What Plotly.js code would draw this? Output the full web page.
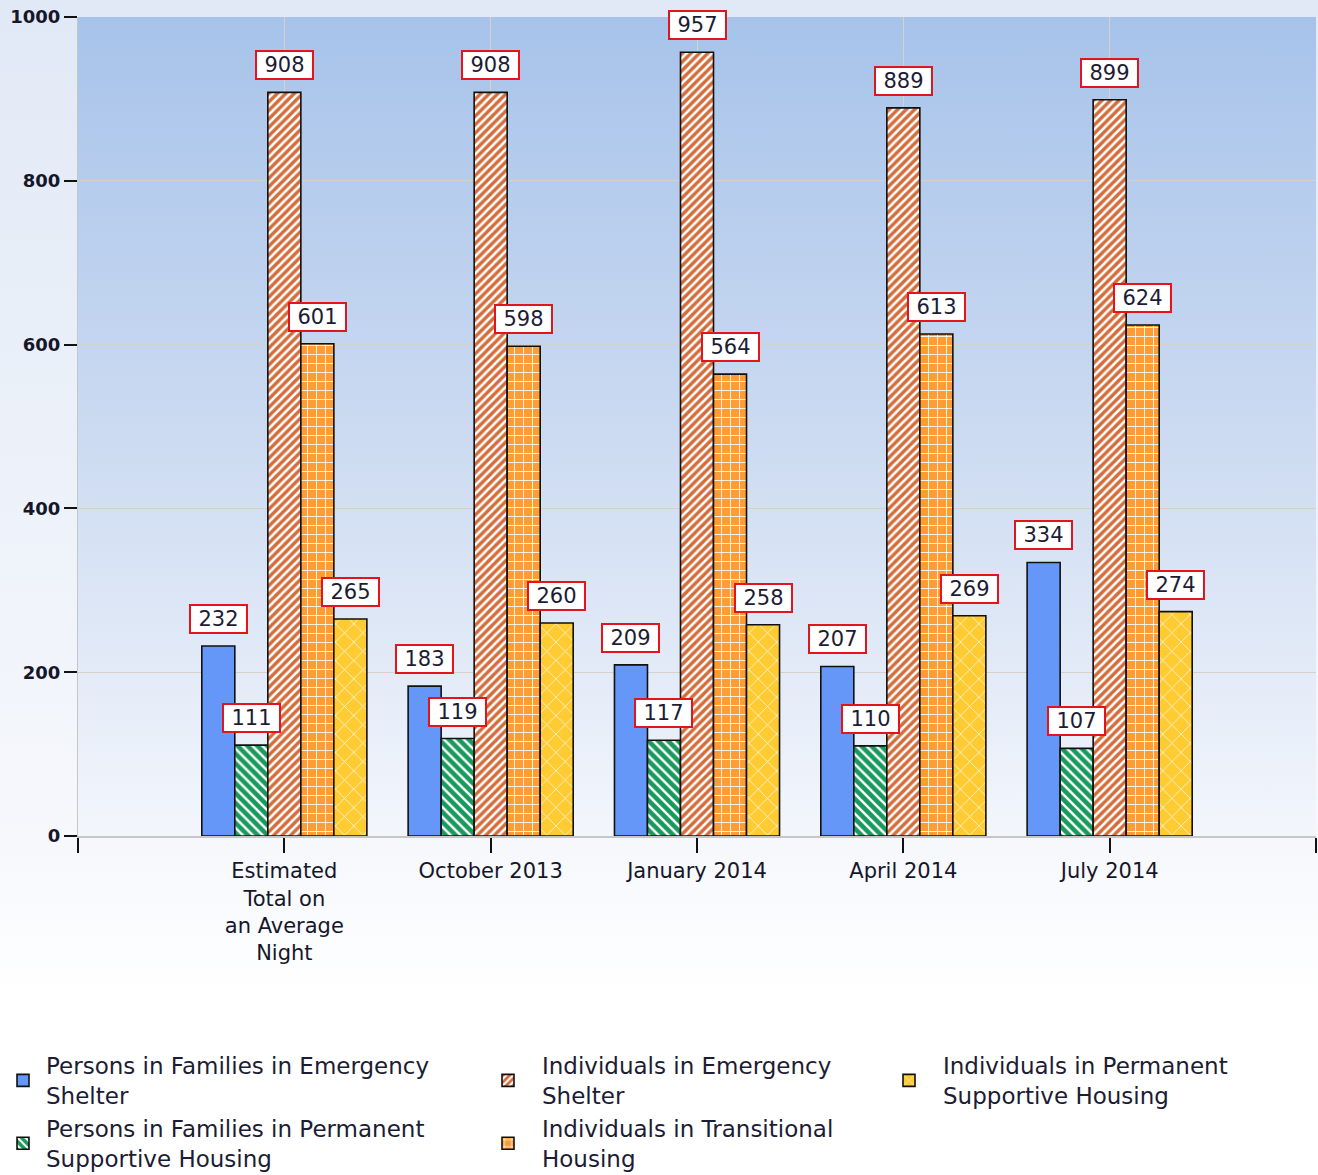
<!DOCTYPE html>
<html><head><meta charset="utf-8">
<script src="https://cdn.plot.ly/plotly-3.0.1.min.js"></script>
<style>
html,body{margin:0;padding:0;background:#ffffff;}
#chart{width:1318px;height:1175px;background:linear-gradient(to bottom,#e1e9f6 0px,#ecf1f9 450px,#f6f8fc 850px,#ffffff 1000px);}
</style>
</head><body><div id="chart"></div>
<script>
// ---- data ----
const categories = ['Estimated<br>Total on<br>an Average<br>Night', 'October 2013', 'January 2014', 'April 2014', 'July 2014'];
const familiesEmergencyShelter = [232, 183, 209, 207, 334];
const familiesPermanentSupportive = [111, 119, 117, 110, 107];
const individualsEmergencyShelter = [908, 908, 957, 889, 899];
const individualsTransitional = [601, 598, 564, 613, 624];
const individualsPermanentSupportive = [265, 260, 258, 269, 274];
const seriesNames = [
  'Persons in Families in Emergency<br>Shelter',
  'Persons in Families in Permanent<br>Supportive Housing',
  'Individuals in Emergency<br>Shelter',
  'Individuals in Transitional<br>Housing',
  'Individuals in Permanent<br>Supportive Housing'
];
const yTicks = [0, 200, 400, 600, 800, 1000];

// ---- styles ----
const seriesValues = [familiesEmergencyShelter, familiesPermanentSupportive, individualsEmergencyShelter, individualsTransitional, individualsPermanentSupportive];
const colors = ['#6497f7', '#179a5c', '#d46d3c', '#ff9c34', '#ffcb33'];
const patterns = [
  {shape: ''},
  {shape: '\\', fgcolor: '#ffffff', fgopacity: 1, size: 7, solidity: 0.35, fillmode: 'overlay'},
  {shape: '/', fgcolor: '#ffffff', fgopacity: 1, size: 6, solidity: 0.42, fillmode: 'overlay'},
  {shape: '+', fgcolor: '#ffffff', fgopacity: 1, size: 9, solidity: 0.18, fillmode: 'overlay'},
  {shape: 'x', fgcolor: '#ffffff', fgopacity: 1, size: 13, solidity: 0.1, fillmode: 'overlay'}
];
const legendIds = ['legend', 'legend', 'legend2', 'legend2', 'legend3'];
const FONT = '"DejaVu Sans", Verdana, sans-serif';
const TXT = '#1c1c34';

const nSeries = seriesValues.length;
const catIndex = categories.map((c, i) => i);
const bargap = 0.2;
const barW = (1 - bargap) / nSeries;

const traces = seriesValues.map((vals, s) => ({
  type: 'bar',
  name: seriesNames[s],
  x: catIndex,
  y: vals,
  legend: legendIds[s],
  marker: {color: colors[s], line: {color: '#111111', width: 1.6}, pattern: patterns[s]},
  hoverinfo: 'none'
}));

const annotations = [];
seriesValues.forEach((vals, s) => {
  vals.forEach((v, j) => {
    annotations.push({
      x: catIndex[j] + (s - (nSeries - 1) / 2) * barW,
      y: v,
      xref: 'x', yref: 'y',
      text: String(v),
      showarrow: false,
      yanchor: 'bottom',
      xanchor: 'center',
      yshift: 12,
      bgcolor: '#ffffff',
      bordercolor: '#e3141c',
      borderwidth: 2,
      borderpad: 0,
      width: 55,
      height: 26,
      font: {family: FONT, size: 21, color: TXT}
    });
  });
});

const gradSvg = "<svg xmlns='http://www.w3.org/2000/svg' width='100' height='100' preserveAspectRatio='none'>" +
  "<defs><linearGradient id='g' x1='0' y1='0' x2='0' y2='1'>" +
  "<stop offset='0' stop-color='#a7c3ea'/><stop offset='0.5' stop-color='#cbdaf1'/><stop offset='1' stop-color='#f3f6fc'/>" +
  "</linearGradient></defs><rect width='100' height='100' fill='url(#g)'/></svg>";

const legendCommon = {
  orientation: 'v', xref: 'container', yref: 'container', xanchor: 'left', yanchor: 'top',
  y: 0.1115, bgcolor: 'rgba(0,0,0,0)', borderwidth: 0, traceorder: 'normal',
  font: {family: FONT, size: 23, color: TXT}
};

const layout = {
  width: 1318, height: 1175,
  margin: {l: 78, r: 2, t: 17, b: 339, autoexpand: false},
  paper_bgcolor: 'rgba(0,0,0,0)',
  plot_bgcolor: 'rgba(0,0,0,0)',
  font: {family: FONT, color: TXT},
  barmode: 'group', bargap: bargap, bargroupgap: 0,
  showlegend: true,
  legend: Object.assign({}, legendCommon, {x: 0, itemwidth: 36}),
  legend2: Object.assign({}, legendCommon, {x: 474 / 1318, itemwidth: 58}),
  legend3: Object.assign({}, legendCommon, {x: 875 / 1318, itemwidth: 58}),
  xaxis: {
    range: [-1, 5], tickmode: 'array',
    tickvals: [-1].concat(catIndex, [5]),
    ticktext: [''].concat(categories, ['']),
    showgrid: true, gridcolor: '#d6d1ca', gridwidth: 1,
    ticks: 'outside', ticklen: 15, tickwidth: 2, tickcolor: '#111111',
    showline: true, linecolor: '#c6c6c6', linewidth: 2, zeroline: false,
    tickfont: {family: FONT, size: 21, color: '#16162a'}, fixedrange: true
  },
  yaxis: {
    range: [0, 1000], tickmode: 'array', tickvals: yTicks,
    showgrid: true, gridcolor: '#d6d1ca', gridwidth: 1,
    ticks: 'outside', ticklen: 13, tickwidth: 2, tickcolor: '#111111',
    showline: true, linecolor: '#c6c6c6', linewidth: 1, zeroline: false,
    tickfont: {family: FONT, size: 18, color: '#16162a', weight: 'bold'}, fixedrange: true
  },
  images: [{
    source: 'data:image/svg+xml;charset=utf-8,' + encodeURIComponent(gradSvg),
    xref: 'paper', yref: 'paper', x: 0, y: 1, sizex: 1, sizey: 1,
    xanchor: 'left', yanchor: 'top', sizing: 'stretch', layer: 'below'
  }],
  annotations: annotations,
  hovermode: false
};

Plotly.newPlot('chart', traces, layout, {displayModeBar: false, staticPlot: true});
</script></body></html>
